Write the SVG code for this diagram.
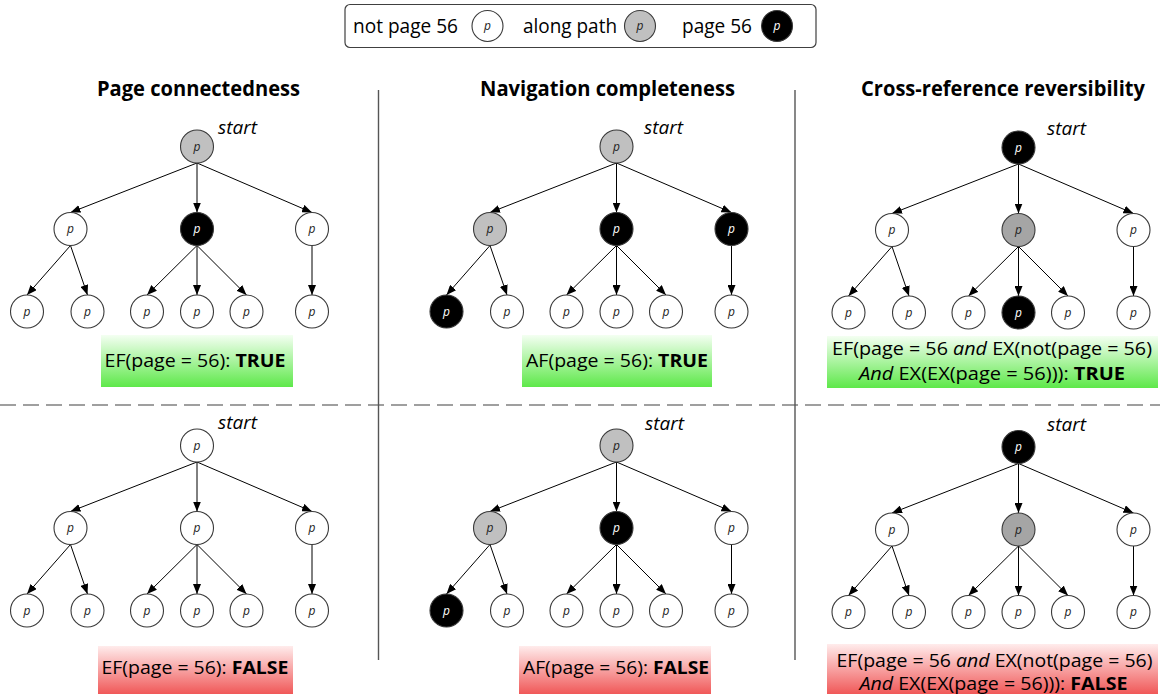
<svg xmlns="http://www.w3.org/2000/svg" xmlns:xlink="http://www.w3.org/1999/xlink" width="1160" height="694" viewBox="0 0 1160 694">
  <style>
    .n circle { stroke: #3a3a3a; stroke-width: 1.1; }
    .n text { font-family: "Open Sans", "Liberation Sans", sans-serif; font-style: italic; font-size: 12px; text-anchor: middle; fill: #222; }
    .w circle { fill: #ffffff; }
    .g circle { fill: #c0c0c0; }
    .d circle { fill: #a5a5a5; }
    .k circle { fill: #000000; }
    .k text { fill: #ffffff; }
    .edge { stroke: #000; stroke-width: 1; fill: none; marker-end: url(#arrow); }
    .title { font-family: "Open Sans", "Liberation Sans", sans-serif; font-weight: bold; font-size: 21px; text-anchor: middle; fill: #000; }
    .start { font-family: "Open Sans", "Liberation Sans", sans-serif; font-style: italic; font-size: 19px; fill: #000; }
    .lbl { font-family: "Open Sans", "Liberation Sans", sans-serif; font-size: 18px; text-anchor: middle; fill: #000; }
    .lbl .b { font-weight: bold; }
    .lbl .i { font-style: italic; }
    .leg { font-family: "Open Sans", "Liberation Sans", sans-serif; font-size: 19.5px; fill: #000; }
    .divider { stroke: #555; stroke-width: 1.4; }
    .dash { stroke: #808080; stroke-width: 1.5; stroke-dasharray: 16 7; }
  </style>
  <defs>
    <marker id="arrow" markerUnits="userSpaceOnUse" markerWidth="11" markerHeight="8" refX="10" refY="4" orient="auto">
      <path d="M0,0 L10,4 L0,8 z" fill="#000"/>
    </marker>
    <linearGradient id="green" x1="0" y1="0" x2="0" y2="1">
      <stop offset="0" stop-color="#f4fff2"/>
      <stop offset="1" stop-color="#5ee84a"/>
    </linearGradient>
    <linearGradient id="red" x1="0" y1="0" x2="0" y2="1">
      <stop offset="0" stop-color="#ffecec"/>
      <stop offset="1" stop-color="#f05858"/>
    </linearGradient>
    <!-- one tree's edges, relative to its root centre (node radius 16.5) -->
    <g id="tree-edges">
      <path class="edge" d="M0,16.5 L-126.5,66"/>
      <path class="edge" d="M0,16.5 L0,66"/>
      <path class="edge" d="M0,16.5 L115,66"/>
      <path class="edge" d="M-126.5,99 L-170,148.5"/>
      <path class="edge" d="M-126.5,99 L-109.5,148.5"/>
      <path class="edge" d="M0,99 L-50,148.5"/>
      <path class="edge" d="M0,99 L0,148.5"/>
      <path class="edge" d="M0,99 L49.5,148.5"/>
      <path class="edge" d="M115,99 L115,148.5"/>
    </g>
  </defs>

  <rect width="1160" height="694" fill="#fff"/>

  <!-- legend -->
  <g id="legend">
    <rect x="345" y="4.5" width="471" height="43" rx="5" fill="#fff" stroke="#404040" stroke-width="1.2"/>
    <text class="leg" x="353" y="33" textLength="105" lengthAdjust="spacingAndGlyphs">not page 56</text>
    <g class="n w" transform="translate(487.5,26)"><circle r="15.5"/><text y="4">p</text></g>
    <text class="leg" x="523" y="33" textLength="94" lengthAdjust="spacingAndGlyphs">along path</text>
    <g class="n g" transform="translate(640,26)"><circle r="15.5"/><text y="4">p</text></g>
    <text class="leg" x="682" y="33" textLength="70" lengthAdjust="spacingAndGlyphs">page 56</text>
    <g class="n k" transform="translate(777,26)"><circle r="15.5"/><text y="4">p</text></g>
  </g>

  <!-- panel separators -->
  <g id="separators">
    <line class="dash" x1="0" y1="405" x2="1160" y2="405"/>
    <line class="divider" x1="378.5" y1="90" x2="378.5" y2="660"/>
    <line class="divider" x1="795" y1="90" x2="795" y2="660"/>
  </g>

  <!-- column titles -->
  <g id="titles">
    <text class="title" x="198.5" y="96" textLength="203" lengthAdjust="spacingAndGlyphs">Page connectedness</text>
    <text class="title" x="607.5" y="96" textLength="255" lengthAdjust="spacingAndGlyphs">Navigation completeness</text>
    <text class="title" x="1003" y="96" textLength="284" lengthAdjust="spacingAndGlyphs">Cross-reference reversibility</text>
  </g>

  <!-- start markers -->
  <g id="start-labels">
    <text class="start" x="218" y="134">start</text>
    <text class="start" x="644" y="134">start</text>
    <text class="start" x="1047" y="135">start</text>
    <text class="start" x="218" y="428.5">start</text>
    <text class="start" x="645" y="429.5">start</text>
    <text class="start" x="1047" y="430.5">start</text>
  </g>

  <!-- connectors -->
  <g id="connectors">
    <use xlink:href="#tree-edges" transform="translate(197,146.5)"/>
    <use xlink:href="#tree-edges" transform="translate(616.5,146.5)"/>
    <use xlink:href="#tree-edges" transform="translate(1018.5,147.5)"/>
    <use xlink:href="#tree-edges" transform="translate(197,445.5)"/>
    <use xlink:href="#tree-edges" transform="translate(616.5,445.5)"/>
    <use xlink:href="#tree-edges" transform="translate(1018.5,447)"/>
  </g>

  <!-- top-left tree: page connectedness, holds -->
  <g id="tl-root" class="n g" transform="translate(197,146.5)"><circle r="16.5"/><text y="4">p</text></g>
  <g id="tl-a" class="n w" transform="translate(70.5,229)"><circle r="16.5"/><text y="4">p</text></g>
  <g id="tl-b" class="n k" transform="translate(197,229)"><circle r="16.5"/><text y="4">p</text></g>
  <g id="tl-c" class="n w" transform="translate(312,229)"><circle r="16.5"/><text y="4">p</text></g>
  <g id="tl-a1" class="n w" transform="translate(27,311.5)"><circle r="16.5"/><text y="4">p</text></g>
  <g id="tl-a2" class="n w" transform="translate(87.5,311.5)"><circle r="16.5"/><text y="4">p</text></g>
  <g id="tl-b1" class="n w" transform="translate(147,311.5)"><circle r="16.5"/><text y="4">p</text></g>
  <g id="tl-b2" class="n w" transform="translate(197,311.5)"><circle r="16.5"/><text y="4">p</text></g>
  <g id="tl-b3" class="n w" transform="translate(246.5,311.5)"><circle r="16.5"/><text y="4">p</text></g>
  <g id="tl-c1" class="n w" transform="translate(312,311.5)"><circle r="16.5"/><text y="4">p</text></g>

  <!-- top-middle tree: navigation completeness, holds -->
  <g id="tm-root" class="n g" transform="translate(616.5,146.5)"><circle r="16.5"/><text y="4">p</text></g>
  <g id="tm-a" class="n g" transform="translate(490,229)"><circle r="16.5"/><text y="4">p</text></g>
  <g id="tm-b" class="n k" transform="translate(616.5,229)"><circle r="16.5"/><text y="4">p</text></g>
  <g id="tm-c" class="n k" transform="translate(731.5,229)"><circle r="16.5"/><text y="4">p</text></g>
  <g id="tm-a1" class="n k" transform="translate(446.5,311.5)"><circle r="16.5"/><text y="4">p</text></g>
  <g id="tm-a2" class="n w" transform="translate(507,311.5)"><circle r="16.5"/><text y="4">p</text></g>
  <g id="tm-b1" class="n w" transform="translate(566.5,311.5)"><circle r="16.5"/><text y="4">p</text></g>
  <g id="tm-b2" class="n w" transform="translate(616.5,311.5)"><circle r="16.5"/><text y="4">p</text></g>
  <g id="tm-b3" class="n w" transform="translate(666,311.5)"><circle r="16.5"/><text y="4">p</text></g>
  <g id="tm-c1" class="n w" transform="translate(731.5,311.5)"><circle r="16.5"/><text y="4">p</text></g>

  <!-- top-right tree: cross-reference reversibility, holds -->
  <g id="tr-root" class="n k" transform="translate(1018.5,147.5)"><circle r="16.5"/><text y="4">p</text></g>
  <g id="tr-a" class="n w" transform="translate(892,230)"><circle r="16.5"/><text y="4">p</text></g>
  <g id="tr-b" class="n d" transform="translate(1018.5,230)"><circle r="16.5"/><text y="4">p</text></g>
  <g id="tr-c" class="n w" transform="translate(1133.5,230)"><circle r="16.5"/><text y="4">p</text></g>
  <g id="tr-a1" class="n w" transform="translate(848.5,312.5)"><circle r="16.5"/><text y="4">p</text></g>
  <g id="tr-a2" class="n w" transform="translate(909,312.5)"><circle r="16.5"/><text y="4">p</text></g>
  <g id="tr-b1" class="n w" transform="translate(968.5,312.5)"><circle r="16.5"/><text y="4">p</text></g>
  <g id="tr-b2" class="n k" transform="translate(1018.5,312.5)"><circle r="16.5"/><text y="4">p</text></g>
  <g id="tr-b3" class="n w" transform="translate(1068,312.5)"><circle r="16.5"/><text y="4">p</text></g>
  <g id="tr-c1" class="n w" transform="translate(1133.5,312.5)"><circle r="16.5"/><text y="4">p</text></g>

  <!-- bottom-left tree: page connectedness, fails -->
  <g id="bl-root" class="n w" transform="translate(197,445.5)"><circle r="16.5"/><text y="4">p</text></g>
  <g id="bl-a" class="n w" transform="translate(70.5,528)"><circle r="16.5"/><text y="4">p</text></g>
  <g id="bl-b" class="n w" transform="translate(197,528)"><circle r="16.5"/><text y="4">p</text></g>
  <g id="bl-c" class="n w" transform="translate(312,528)"><circle r="16.5"/><text y="4">p</text></g>
  <g id="bl-a1" class="n w" transform="translate(27,610.5)"><circle r="16.5"/><text y="4">p</text></g>
  <g id="bl-a2" class="n w" transform="translate(87.5,610.5)"><circle r="16.5"/><text y="4">p</text></g>
  <g id="bl-b1" class="n w" transform="translate(147,610.5)"><circle r="16.5"/><text y="4">p</text></g>
  <g id="bl-b2" class="n w" transform="translate(197,610.5)"><circle r="16.5"/><text y="4">p</text></g>
  <g id="bl-b3" class="n w" transform="translate(246.5,610.5)"><circle r="16.5"/><text y="4">p</text></g>
  <g id="bl-c1" class="n w" transform="translate(312,610.5)"><circle r="16.5"/><text y="4">p</text></g>

  <!-- bottom-middle tree: navigation completeness, fails -->
  <g id="bm-root" class="n g" transform="translate(616.5,445.5)"><circle r="16.5"/><text y="4">p</text></g>
  <g id="bm-a" class="n g" transform="translate(490,528)"><circle r="16.5"/><text y="4">p</text></g>
  <g id="bm-b" class="n k" transform="translate(616.5,528)"><circle r="16.5"/><text y="4">p</text></g>
  <g id="bm-c" class="n w" transform="translate(731.5,528)"><circle r="16.5"/><text y="4">p</text></g>
  <g id="bm-a1" class="n k" transform="translate(446.5,610.5)"><circle r="16.5"/><text y="4">p</text></g>
  <g id="bm-a2" class="n w" transform="translate(507,610.5)"><circle r="16.5"/><text y="4">p</text></g>
  <g id="bm-b1" class="n w" transform="translate(566.5,610.5)"><circle r="16.5"/><text y="4">p</text></g>
  <g id="bm-b2" class="n w" transform="translate(616.5,610.5)"><circle r="16.5"/><text y="4">p</text></g>
  <g id="bm-b3" class="n w" transform="translate(666,610.5)"><circle r="16.5"/><text y="4">p</text></g>
  <g id="bm-c1" class="n w" transform="translate(731.5,610.5)"><circle r="16.5"/><text y="4">p</text></g>

  <!-- bottom-right tree: cross-reference reversibility, fails -->
  <g id="br-root" class="n k" transform="translate(1018.5,447)"><circle r="16.5"/><text y="4">p</text></g>
  <g id="br-a" class="n w" transform="translate(892,529.5)"><circle r="16.5"/><text y="4">p</text></g>
  <g id="br-b" class="n d" transform="translate(1018.5,529.5)"><circle r="16.5"/><text y="4">p</text></g>
  <g id="br-c" class="n w" transform="translate(1133.5,529.5)"><circle r="16.5"/><text y="4">p</text></g>
  <g id="br-a1" class="n w" transform="translate(848.5,612)"><circle r="16.5"/><text y="4">p</text></g>
  <g id="br-a2" class="n w" transform="translate(909,612)"><circle r="16.5"/><text y="4">p</text></g>
  <g id="br-b1" class="n w" transform="translate(968.5,612)"><circle r="16.5"/><text y="4">p</text></g>
  <g id="br-b2" class="n w" transform="translate(1018.5,612)"><circle r="16.5"/><text y="4">p</text></g>
  <g id="br-b3" class="n w" transform="translate(1068,612)"><circle r="16.5"/><text y="4">p</text></g>
  <g id="br-c1" class="n w" transform="translate(1133.5,612)"><circle r="16.5"/><text y="4">p</text></g>

  <!-- verdict boxes -->
  <g id="verdict-tl">
    <rect x="101" y="335" width="192" height="52" fill="url(#green)"/>
    <text class="lbl" x="195" y="367" textLength="181" lengthAdjust="spacingAndGlyphs">EF(page = 56): <tspan class="b">TRUE</tspan></text>
  </g>
  <g id="verdict-tm">
    <rect x="522" y="335" width="190" height="52" fill="url(#green)"/>
    <text class="lbl" x="617" y="367" textLength="182" lengthAdjust="spacingAndGlyphs">AF(page = 56): <tspan class="b">TRUE</tspan></text>
  </g>
  <g id="verdict-tr">
    <rect x="827" y="336" width="331" height="52" fill="url(#green)"/>
    <text class="lbl" x="992" y="355" textLength="320" lengthAdjust="spacingAndGlyphs">EF(page = 56 <tspan class="i">and</tspan> EX(not(page = 56)</text>
    <text class="lbl" x="992" y="380" textLength="266" lengthAdjust="spacingAndGlyphs"><tspan class="i">And</tspan> EX(EX(page = 56))): <tspan class="b">TRUE</tspan></text>
  </g>
  <g id="verdict-bl">
    <rect x="98" y="646" width="195" height="48" fill="url(#red)"/>
    <text class="lbl" x="195" y="674" textLength="187" lengthAdjust="spacingAndGlyphs">EF(page = 56): <tspan class="b">FALSE</tspan></text>
  </g>
  <g id="verdict-bm">
    <rect x="519" y="646" width="192" height="48" fill="url(#red)"/>
    <text class="lbl" x="616" y="674" textLength="186" lengthAdjust="spacingAndGlyphs">AF(page = 56): <tspan class="b">FALSE</tspan></text>
  </g>
  <g id="verdict-br">
    <rect x="827" y="644" width="331" height="50" fill="url(#red)"/>
    <text class="lbl" x="994.5" y="666.5" textLength="316" lengthAdjust="spacingAndGlyphs">EF(page = 56 <tspan class="i">and</tspan> EX(not(page = 56)</text>
    <text class="lbl" x="993.5" y="690" textLength="268" lengthAdjust="spacingAndGlyphs"><tspan class="i">And</tspan> EX(EX(page = 56))): <tspan class="b">FALSE</tspan></text>
  </g>
</svg>
